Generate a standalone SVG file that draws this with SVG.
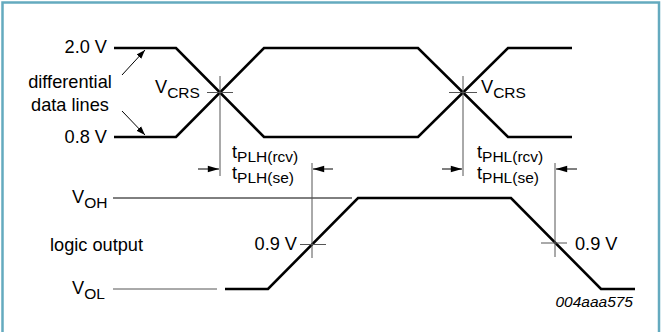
<svg xmlns="http://www.w3.org/2000/svg" width="664" height="332" viewBox="0 0 664 332">
<defs>
<style>
text{font-family:"Liberation Sans",Arial,sans-serif;font-size:18.2px;fill:#000}
.sub{font-size:15.5px}
.id{font-size:15.5px;font-style:italic}
.thick{fill:none;stroke:#000;stroke-width:2.6;stroke-linejoin:miter}
.thin{fill:none;stroke:#000;stroke-width:1}
.grey{fill:none;stroke:#555;stroke-width:1}
</style>
<marker id="ah" viewBox="0 0 10 10" refX="10" refY="5" markerWidth="9" markerHeight="9" markerUnits="userSpaceOnUse" orient="auto">
<path d="M0,1.5 L10,5 L0,8.5 Z" fill="#000"/>
</marker>
<marker id="ah2" viewBox="0 0 14 10" refX="14" refY="5" markerWidth="14" markerHeight="8" markerUnits="userSpaceOnUse" orient="auto">
<path d="M0,1 L14,5 L0,9 Z" fill="#000"/>
</marker>
</defs>
<rect x="2.5" y="2.5" width="656.5" height="345" fill="#fff" stroke="#64aabf" stroke-width="2.5"/>

<g id="connectors">
<path class="thick" d="M114,48 H176 L264,137 H418 L508,48 H572"/>
<path class="thick" d="M114,137 H176 L264,48 H418 L508,137 H572"/>
<line class="grey" x1="220" y1="76" x2="220" y2="176"/>
<line class="grey" x1="207" y1="92.5" x2="233" y2="92.5"/>
<line class="grey" x1="463" y1="76" x2="463" y2="176"/>
<line class="grey" x1="449" y1="92.5" x2="477" y2="92.5"/>
<line class="thin" x1="122" y1="75" x2="145" y2="50" marker-end="url(#ah)"/>
<line class="thin" x1="122" y1="111" x2="145" y2="135" marker-end="url(#ah)"/>
<line class="thin" x1="113" y1="198" x2="352" y2="198"/>
<line class="grey" x1="113" y1="289" x2="217" y2="289"/>
<path class="thick" d="M225,289 H268 L358,198 H511 L601,289 H635"/>
<line class="grey" x1="312" y1="163" x2="312" y2="258"/>
<line class="grey" x1="300" y1="244.5" x2="326" y2="244.5"/>
<line class="grey" x1="555" y1="163" x2="555" y2="257"/>
<line class="grey" x1="541" y1="243" x2="567" y2="243"/>
<line class="thin" x1="198" y1="169" x2="219" y2="169" marker-end="url(#ah2)"/>
<line class="thin" x1="333" y1="169" x2="313" y2="169" marker-end="url(#ah2)"/>
<line class="thin" x1="442" y1="169" x2="462" y2="169" marker-end="url(#ah2)"/>
<line class="thin" x1="577" y1="169" x2="556" y2="169" marker-end="url(#ah2)"/>
</g>

<g id="label-2v0"><text x="107" y="53" text-anchor="end">2.0 V</text></g>
<g id="label-0v8"><text x="107" y="143" text-anchor="end">0.8 V</text></g>
<g id="label-diff"><text x="70" y="88" text-anchor="middle">differential</text><text x="70" y="111" text-anchor="middle">data lines</text></g>
<g id="vcrs-left"><text x="155" y="93">V<tspan class="sub" dy="5">CRS</tspan></text></g>
<g id="vcrs-right"><text x="481" y="93">V<tspan class="sub" dy="5">CRS</tspan></text></g>
<g id="tplh"><text x="232" y="158">t<tspan class="sub" dy="4">PLH(rcv)</tspan></text><text x="232" y="179">t<tspan class="sub" dy="4">PLH(se)</tspan></text></g>
<g id="tphl"><text x="477" y="158">t<tspan class="sub" dy="4">PHL(rcv)</tspan></text><text x="477" y="179">t<tspan class="sub" dy="4">PHL(se)</tspan></text></g>
<g id="voh"><text x="72" y="203">V<tspan class="sub" dy="5">OH</tspan></text></g>
<g id="vol"><text x="72" y="294">V<tspan class="sub" dy="5">OL</tspan></text></g>
<g id="logic-output"><text x="50" y="251">logic output</text></g>
<g id="v09-left"><text x="297" y="250" text-anchor="end">0.9 V</text></g>
<g id="v09-right"><text x="575" y="250">0.9 V</text></g>
<g id="figid"><text class="id" x="633" y="307" text-anchor="end">004aaa575</text></g>
</svg>
